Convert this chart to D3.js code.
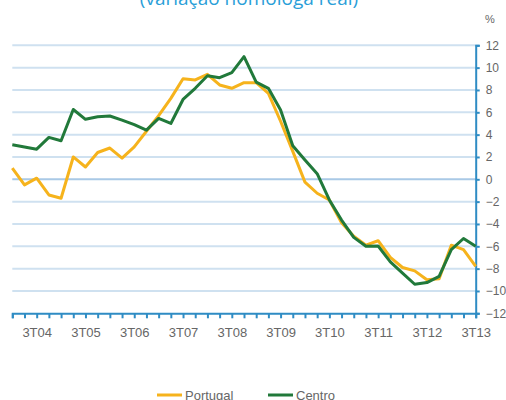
<!DOCTYPE html>
<html>
<head>
<meta charset="utf-8">
<script src="https://cdn.jsdelivr.net/npm/d3@7"></script>
<style>
  body { margin: 0; background: #fff; }
  svg { display: block; font-family: "Liberation Sans", Arial, sans-serif; }
</style>
</head>
<body>
<svg id="chart"></svg>
<script>
// Quarters 1T04 .. 3T13
const quarters = [];
for (let yr = 4; yr <= 13; yr++) {
    for (let q = 1; q <= 4; q++) {
        if (yr === 13 && q > 3) break;
        quarters.push(q + "T" + String(yr).padStart(2, "0"));
    }
}

const portugal = [1.0, -0.5, 0.1, -1.4, -1.7, 2.0, 1.1, 2.4, 2.8, 1.9,
    2.9, 4.3, 5.7, 7.25, 9.0, 8.9, 9.4, 8.45, 8.15, 8.65,
    8.65, 7.7, 5.2, 2.5, -0.25, -1.25, -1.85, -3.9, -5.1, -5.9,
    -5.5, -7.0, -7.9, -8.2, -9.0, -8.9, -5.9, -6.3, -7.8];

const centro = [3.1, 2.9, 2.7, 3.75, 3.45, 6.25, 5.37, 5.6, 5.67, 5.3,
    4.9, 4.4, 5.45, 5.0, 7.15, 8.15, 9.27, 9.1, 9.55, 10.98,
    8.7, 8.15, 6.2, 3.0, 1.73, 0.5, -1.85, -3.65, -5.2, -6.0,
    -5.97, -7.4, -8.4, -9.4, -9.25, -8.7, -6.3, -5.3, -6.0];

const yTicks = [12, 10, 8, 6, 4, 2, 0, -2, -4, -6, -8, -10, -12];

// SVG dimensions
const width = 506;
const height = 400;
const plotLeft = 12.3, plotRight = 475.7, plotTop = 45.3, plotBottom = 313.3;

const svg = d3.select("#chart")
    .attr("width", width)
    .attr("height", height);

// Scales
const x = d3.scalePoint()
    .domain(quarters)
    .range([plotLeft, plotRight]);

const y = d3.scaleLinear()
    .domain([-12, 12])
    .range([plotBottom, plotTop]);

// Title (cut off at top, as in the source image)
svg.append("text")
    .attr("x", 249)
    .attr("y", 5)
    .attr("text-anchor", "middle")
    .attr("fill", "#2a9ed8")
    .attr("font-family", "Open Sans, sans-serif")
    .attr("font-size", 19)
    .text("(variação homóloga real)");

svg.append("text")
    .attr("x", 485)
    .attr("y", 23)
    .attr("fill", "#666")
    .attr("font-size", 11)
    .text("%");

// Gridlines
svg.append("g")
    .selectAll("line")
    .data(yTicks.filter(d => d !== -12))
    .enter()
    .append("line")
    .attr("x1", plotLeft)
    .attr("x2", plotRight)
    .attr("y1", d => y(d))
    .attr("y2", d => y(d))
    .attr("stroke", d => d === 0 ? "#a9c9e6" : "#cfe1f0")
    .attr("stroke-width", 2);

// Right axis
const yAxis = svg.append("g")
    .attr("transform", `translate(${plotRight},0)`)
    .call(d3.axisRight(y).tickValues(yTicks).tickSize(4).tickPadding(6));
yAxis.select(".domain").attr("stroke", "#2f8cc4").attr("stroke-width", 2);
yAxis.selectAll(".tick line").attr("stroke", "#2f8cc4").attr("stroke-width", 2);
yAxis.selectAll(".tick text")
    .attr("fill", "#666")
    .attr("font-size", 12)
    .attr("font-family", "Liberation Sans, Arial, sans-serif");

// Bottom axis
const xAxis = svg.append("g")
    .attr("transform", `translate(0,${plotBottom})`)
    .call(d3.axisBottom(x).tickSize(5).tickPadding(9)
        .tickFormat(d => d.startsWith("3T") ? d : ""));
xAxis.select(".domain").attr("stroke", "#2f8cc4").attr("stroke-width", 2);
xAxis.selectAll(".tick line").attr("stroke", "#2f8cc4").attr("stroke-width", 2);
xAxis.selectAll(".tick text")
    .attr("fill", "#666")
    .attr("font-size", 13)
    .attr("font-family", "Liberation Sans, Arial, sans-serif");

// Lines
const line = d3.line()
    .x((d, i) => x(quarters[i]))
    .y(d => y(d));

const series = [
    { name: "Portugal", values: portugal, color: "#f6b31c" },
    { name: "Centro", values: centro, color: "#21793a" }
];

svg.selectAll("path.series")
    .data(series)
    .enter()
    .append("path")
    .attr("class", "series")
    .attr("fill", "none")
    .attr("stroke", d => d.color)
    .attr("stroke-width", 3)
    .attr("stroke-linejoin", "round")
    .attr("d", d => line(d.values));

// Legend
const legend = svg.selectAll("g.legend")
    .data(series)
    .enter()
    .append("g")
    .attr("class", "legend")
    .attr("transform", (d, i) => `translate(${i === 0 ? 157 : 268},395)`);

legend.append("line")
    .attr("x1", 0)
    .attr("x2", 25)
    .attr("stroke", d => d.color)
    .attr("stroke-width", 3);

legend.append("text")
    .attr("x", 28)
    .attr("y", 4.5)
    .attr("fill", "#666")
    .attr("font-size", 13)
    .text(d => d.name);
</script>
</body>
</html>
